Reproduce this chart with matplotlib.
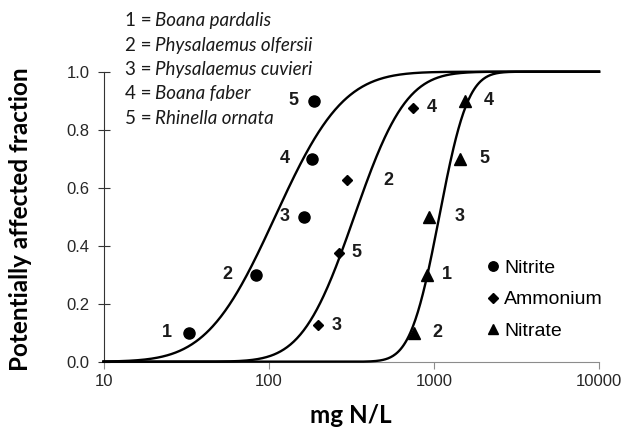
import math

import matplotlib
import numpy as np
from matplotlib import pyplot as plt

matplotlib.use("Agg")

# species key shown in the top left corner
species_ids = ["1", "2", "3", "4", "5"]
species_names = ["Boana pardalis", "Physalaemus olfersii", "Physalaemus cuvieri",
                 "Boana faber", "Rhinella ornata"]

# toxicity values (mg N/L) with their plotting fraction and species id
nitrite_conc = [33, 84, 163, 183, 189]
nitrite_frac = [0.1, 0.3, 0.5, 0.7, 0.9]
nitrite_ids = ["1", "2", "3", "4", "5"]

ammonium_conc = [200, 265, 298, 745]
ammonium_frac = [0.125, 0.375, 0.625, 0.875]
ammonium_ids = ["3", "5", "2", "4"]

nitrate_conc = [755, 910, 940, 1449, 1552]
nitrate_frac = [0.1, 0.3, 0.5, 0.7, 0.9]
nitrate_ids = ["2", "1", "3", "5", "4"]

x_ticks = [10, 100, 1000, 10000]
x_ticklabels = ["10", "100", "1000", "10000"]
y_ticks = [0.0, 0.2, 0.4, 0.6, 0.8, 1.0]
y_ticklabels = ["0.0", "0.2", "0.4", "0.6", "0.8", "1.0"]

# label offsets in points (left for nitrite, right for the others)
nitrite_dx = [-16, -21, -14, -20, -15]
ammonium_dx = [13, 13, 30, 14]
nitrate_dx = [17, 14, 22, 17, 17]

SANS = "Liberation Sans"
TITLE = "Lato"


def lognormal_fit(conc):
    """Species sensitivity distribution: log-normal fitted to the points."""
    logs = np.log10(conc)
    return logs.mean(), logs.std(ddof=1)


def ssd_curve(conc, x):
    mu, sd = lognormal_fit(conc)
    z = (np.log10(x) - mu) / (sd * math.sqrt(2))
    return np.array([0.5 * (1 + math.erf(v)) for v in z])


fig = plt.figure(figsize=(6.24, 4.38), dpi=100)
ax = fig.add_axes([0.1659, 0.1742, 0.7941, 0.6621])

x_line = np.logspace(1, 4, 600)
groups = [
    ("Nitrite", nitrite_conc, nitrite_frac, nitrite_ids, nitrite_dx, "o", 8),
    ("Ammonium", ammonium_conc, ammonium_frac, ammonium_ids, ammonium_dx, "D", 5.5),
    ("Nitrate", nitrate_conc, nitrate_frac, nitrate_ids, nitrate_dx, "^", 8),
]
handles = []
for name, conc, frac, ids, dxs, marker, ms in groups:
    ax.plot(x_line, ssd_curve(conc, x_line), color="black", lw=1.7,
            clip_on=False, zorder=3)
    h, = ax.plot(conc, frac, ls="none", marker=marker, ms=ms, color="black",
                 clip_on=False, zorder=4, label=name)
    handles.append(h)
    for c, f, lab, dx in zip(conc, frac, ids, dxs):
        ax.annotate(lab, (c, f), xytext=(dx, 0), textcoords="offset points",
                    ha="center", va="center", fontsize=13, fontweight="bold",
                    family=SANS, color="#1a1a1a")

ax.set_xscale("log")
ax.set_xlim(10, 10000)
ax.set_ylim(0, 1)
ax.set_xticks(x_ticks)
ax.set_xticklabels(x_ticklabels)
ax.xaxis.set_minor_locator(matplotlib.ticker.NullLocator())
ax.set_yticks(y_ticks)
ax.set_yticklabels(y_ticklabels)
for lab in ax.get_xticklabels() + ax.get_yticklabels():
    lab.set_family(SANS)
    lab.set_fontsize(12)
    lab.set_color("#262626")

ax.spines["top"].set_visible(False)
ax.spines["right"].set_visible(False)
ax.spines["left"].set_color("#333333")
ax.spines["bottom"].set_color("#8c8c8c")
ax.tick_params(axis="x", direction="out", length=5, color="#8c8c8c", pad=4)
ax.tick_params(axis="y", direction="inout", length=8, color="#333333", pad=6)

ax.set_xlabel("mg N/L", family=TITLE, fontweight="bold", fontsize=17.5,
              va="center")
ax.xaxis.set_label_coords(0.5, -0.185)
ax.set_ylabel("Potentially affected fraction", family=TITLE,
              fontweight="bold", fontsize=17.5, va="center")
ax.yaxis.set_label_coords(-0.167, 0.49)

# species key
for i, (sid, sname) in enumerate(zip(species_ids, species_names)):
    y = 1 - (20.7 + i * 24.4) / 438
    fig.text(125 / 624, y, f"{sid} =", family=TITLE, fontsize=13.5,
             va="center", color="#1a1a1a")
    fig.text(155 / 624, y, sname, family=TITLE, fontsize=13.5,
             style="italic", va="center", color="#1a1a1a")

ax.legend(handles=handles, loc="center left", bbox_to_anchor=(0.758, 0.214),
          frameon=False, prop={"family": SANS, "size": 14},
          handlelength=0.6, handletextpad=0.3, labelspacing=0.7,
          borderaxespad=0, markerscale=0.85)

fig.savefig("out.png", dpi=100)
plt.close(fig)
